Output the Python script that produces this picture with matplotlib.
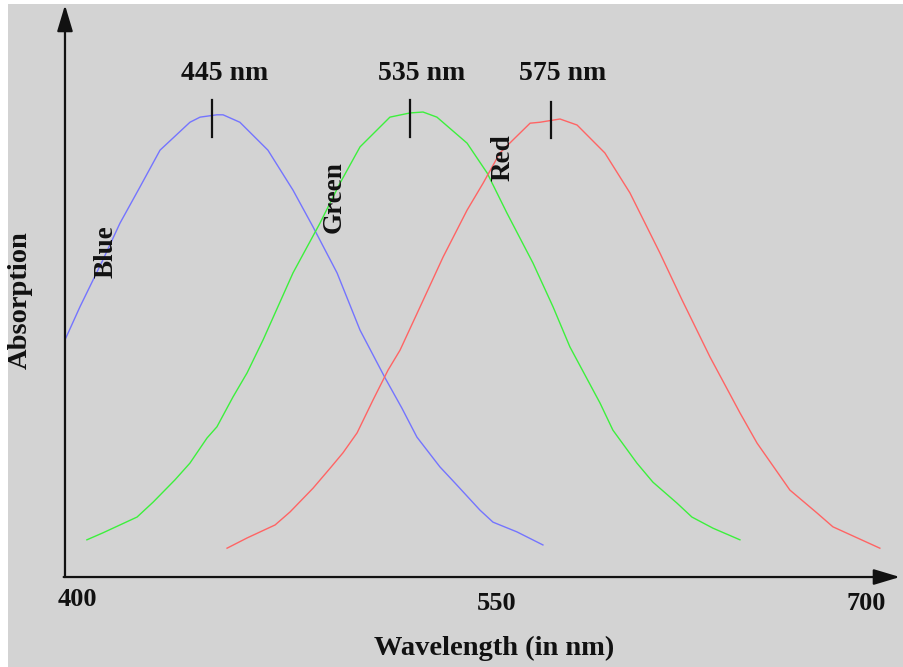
import matplotlib
matplotlib.use("Agg")
import matplotlib.pyplot as plt
from matplotlib.patches import Rectangle

# ---- data (x: wavelength scale of the drawing, y: relative absorption) ----
blue_x = [400.0, 405.6, 414.2, 420.6, 428.1, 435.6, 446.8, 450.6, 456.9, 459.2, 465.5,
          476.0, 485.4, 492.9, 501.9, 510.5, 519.9, 526.2, 531.8, 540.4, 546.1, 555.4,
          560.3, 569.3, 579.0]
blue_y = [0.510, 0.581, 0.682, 0.761, 0.839, 0.918, 0.978, 0.989, 0.994, 0.994, 0.978,
          0.918, 0.832, 0.753, 0.654, 0.531, 0.428, 0.363, 0.301, 0.237, 0.202, 0.144,
          0.118, 0.097, 0.069]

green_x = [408.2, 414.2, 427.0, 433.0, 441.2, 446.8, 453.2, 456.9, 462.9, 468.2, 474.2,
           485.4, 495.5, 503.0, 510.5, 521.7, 529.2, 534.1, 539.3, 550.6, 558.1, 565.5,
           575.3, 582.8, 589.1, 600.4, 605.2, 614.2, 620.2, 629.2, 634.8, 642.7, 652.8]
green_y = [0.080, 0.095, 0.129, 0.161, 0.209, 0.245, 0.299, 0.323, 0.387, 0.439, 0.510,
           0.654, 0.761, 0.847, 0.925, 0.989, 0.998, 1.000, 0.989, 0.933, 0.869, 0.783,
           0.675, 0.581, 0.495, 0.374, 0.316, 0.245, 0.204, 0.159, 0.129, 0.105, 0.080]

red_x = [460.7, 468.2, 478.7, 484.3, 492.9, 499.3, 504.1, 509.4, 515.4, 521.0, 525.5,
         533.0, 541.6, 550.6, 556.6, 562.9, 567.8, 574.2, 577.9, 585.4, 591.8, 602.2,
         611.6, 622.8, 631.1, 641.6, 652.8, 659.2, 671.5, 681.6, 687.6, 705.2]
red_y = [0.062, 0.084, 0.112, 0.140, 0.191, 0.234, 0.267, 0.310, 0.381, 0.445, 0.488,
         0.581, 0.688, 0.789, 0.847, 0.912, 0.940, 0.976, 0.978, 0.985, 0.972, 0.912,
         0.826, 0.697, 0.596, 0.473, 0.353, 0.288, 0.187, 0.138, 0.108, 0.062]

peak_labels = ["445 nm", "535 nm", "575 nm"]
peak_marker_x = [455.1, 529.2, 582.0]
peak_marker_y0 = [0.946, 0.946, 0.944]
peak_marker_y1 = [1.026, 1.026, 1.022]
peak_label_x = [459.9, 533.7, 586.5]

curve_names = ["Blue", "Green", "Red"]
curve_name_x = [415.2, 500.7, 564.0]
curve_name_y = [0.699, 0.817, 0.901]

tick_labels = ["400", "550", "700"]
tick_label_x = [404.5, 561.8, 700.0]
tick_label_y = [-0.049, -0.058, -0.058]

# ---- figure ----
W, H, DPI = 904, 667, 100
BG = "#d3d3d3"
fig = plt.figure(figsize=(W / DPI, H / DPI), dpi=DPI, facecolor="white")
fig.patches.append(Rectangle((8 / W, 0), 1, (H - 4) / H, transform=fig.transFigure,
                             facecolor=BG, edgecolor="none", zorder=-10))
ax = fig.add_axes([0, 0, 1, 1])
ax.set_axis_off()
ax.set_zorder(5)
ax.set_xlim(375.66, 714.24)
ax.set_ylim(-0.1935, 1.2409)

font = dict(family=["Liberation Serif", "DejaVu Serif"], fontweight="bold", color="#111111")

lw = 1.0
ax.plot(blue_x, blue_y, color="#7474ff", lw=lw)
ax.plot(green_x, green_y, color="#3cf03c", lw=lw)
ax.plot(red_x, red_y, color="#ff6464", lw=lw)

for x, y0, y1, lab, lx in zip(peak_marker_x, peak_marker_y0, peak_marker_y1, peak_labels, peak_label_x):
    ax.plot([x, x], [y0, y1], color="#111111", lw=1.6)
    ax.text(lx, 1.082, lab, ha="center", va="center", fontsize=20, **font)

for name, x, y in zip(curve_names, curve_name_x, curve_name_y):
    ax.text(x, y, name, rotation=90, ha="center", va="center", fontsize=19.5, **font)

for lab, x, y in zip(tick_labels, tick_label_x, tick_label_y):
    ax.text(x, y, lab, ha="center", va="center", fontsize=19, **font)

# axes with arrows
arrow_kw = dict(arrowstyle="-|>,head_length=1.0,head_width=0.3", mutation_scale=16,
                color="#111111", lw=1.6, shrinkA=0, shrinkB=0)
ax.annotate("", xy=(400, 1.230), xytext=(400, 0), arrowprops=arrow_kw)
ax.annotate("", xy=(712.7, 0), xytext=(399.5, 0), arrowprops=arrow_kw)

ax.text(383.2, 0.596, "Absorption", rotation=90, ha="center", va="center", fontsize=20.5, **font)
ax.text(560.7, -0.153, "Wavelength (in nm)", ha="center", va="center", fontsize=20.5, **font)

fig.savefig("out.png", dpi=DPI, facecolor="white")
